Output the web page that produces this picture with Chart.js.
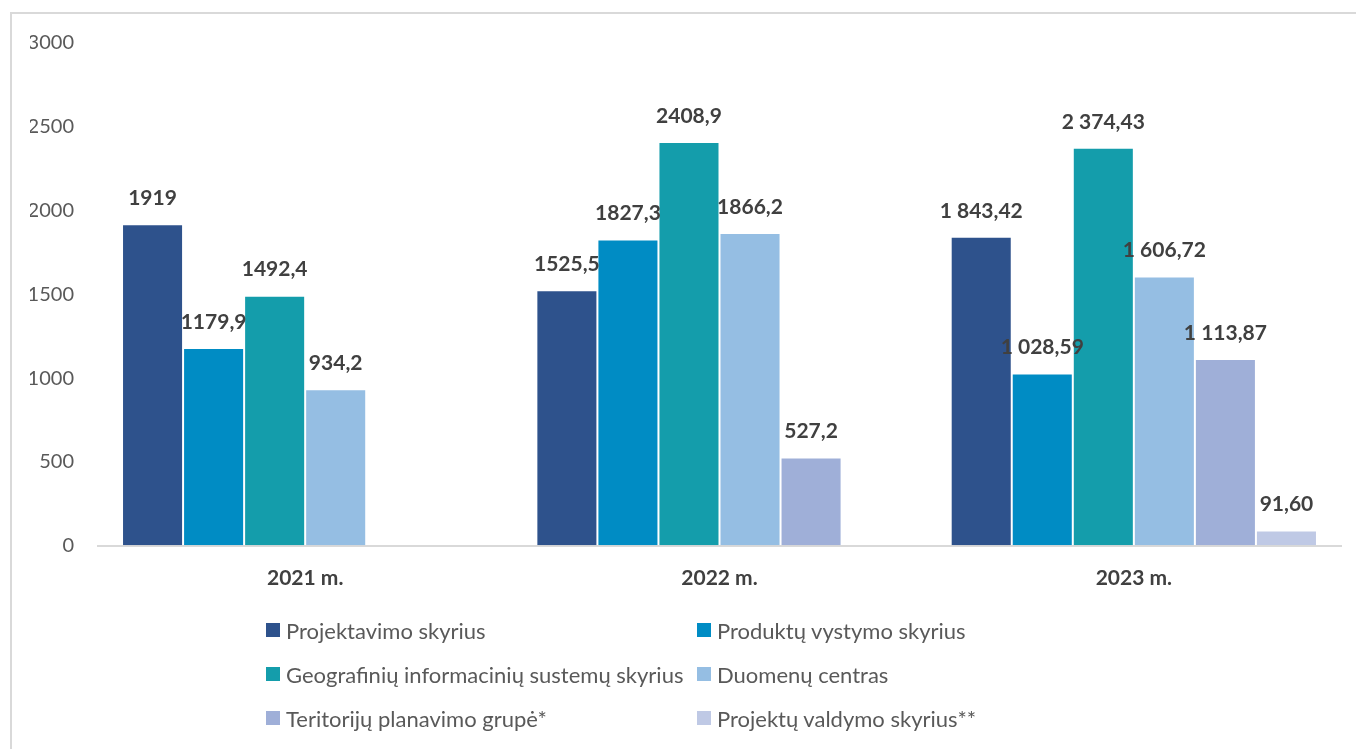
<!DOCTYPE html>
<html lang="lt">
<head>
    <meta charset="UTF-8">
    <title>Skyriai pagal metus</title>
    <script src="https://cdn.jsdelivr.net/npm/chart.js"></script>
    <style>
        body { margin: 0; background: #fff; width: 1356px; height: 749px; overflow: hidden; position: relative; font-family: Lato, "Noto Sans", sans-serif; }
        #frame { position: absolute; left: 10px; top: 12px; width: 1400px; height: 800px; border: 2px solid #d9d9d9; box-sizing: border-box; }
        #wrap { position: absolute; left: 0; top: 0; width: 1356px; height: 621px; }
        #legend { position: absolute; left: 266px; top: 617px; width: 800px; display: grid; grid-template-columns: 431px 369px; row-gap: 18px; }
        .item { display: flex; align-items: center; font-size: 22px; color: #595959; height: 26px; white-space: nowrap; }
        .box { width: 14px; height: 14px; margin-right: 6px; flex: none; }
    </style>
</head>
<body>
    <div id="frame"></div>
    <div id="wrap"><canvas id="chart"></canvas></div>
    <div id="legend"></div>

    <script>
        // metai
        const years = ['2021 m.', '2022 m.', '2023 m.'];

        // skyriai
        const names = [
            'Projektavimo skyrius',
            'Produktų vystymo skyrius',
            'Geografinių informacinių sustemų skyrius',
            'Duomenų centras',
            'Teritorijų planavimo grupė*',
            'Projektų valdymo skyrius**'
        ];
        const colors = ['#2e528c', '#008cc4', '#149dab', '#95bee3', '#9fafd8', '#bfc9e5'];

        // reikšmės
        const projektavimo = [1919, 1525.5, 1843.42];
        const produktu = [1179.9, 1827.3, 1028.59];
        const geografiniu = [1492.4, 2408.9, 2374.43];
        const duomenu = [934.2, 1866.2, 1606.72];
        const teritoriju = [null, 527.2, 1113.87];
        const projektu = [null, null, 91.6];

        // užrašai virš stulpelių
        const projektavimoLbl = ['1919', '1525,5', '1 843,42'];
        const produktuLbl = ['1179,9', '1827,3', '1 028,59'];
        const geografiniuLbl = ['1492,4', '2408,9', '2 374,43'];
        const duomenuLbl = ['934,2', '1866,2', '1 606,72'];
        const teritorijuLbl = ['', '527,2', '1 113,87'];
        const projektuLbl = ['', '', '91,60'];

        const values = [projektavimo, produktu, geografiniu, duomenu, teritoriju, projektu];
        const labels = [projektavimoLbl, produktuLbl, geografiniuLbl, duomenuLbl, teritorijuLbl, projektuLbl];

        const valueLabels = {
            id: 'valueLabels',
            afterDatasetsDraw(chart) {
                const ctx = chart.ctx;
                ctx.save();
                ctx.font = 'bold 21px Lato, "Noto Sans", sans-serif';
                ctx.fillStyle = '#404040';
                ctx.textAlign = 'center';
                ctx.textBaseline = 'middle';
                chart.data.datasets.forEach((ds, i) => {
                    const meta = chart.getDatasetMeta(i);
                    meta.data.forEach((bar, j) => {
                        if (ds.data[j] == null) return;
                        ctx.fillText(labels[i][j], bar.x, bar.y - 26);
                    });
                });
                ctx.restore();
            }
        };

        new Chart(document.getElementById('chart'), {
            type: 'bar',
            data: {
                labels: years,
                datasets: names.map((n, i) => ({
                    label: n,
                    data: values[i],
                    backgroundColor: colors[i],
                    borderColor: 'rgba(255,255,255,0.5)',
                    borderWidth: 1,
                    barPercentage: 1,
                    categoryPercentage: 0.884
                }))
            },
            options: {
                responsive: true,
                maintainAspectRatio: false,
                animation: false,
                layout: { padding: { top: 43, left: 30, right: 15, bottom: 10 } },
                plugins: {
                    legend: { display: false },
                    tooltip: { enabled: false }
                },
                scales: {
                    x: {
                        grid: { display: true, drawOnChartArea: false, drawTicks: false },
                        border: { color: '#d9d9d9', width: 2 },
                        ticks: {
                            color: '#404040',
                            padding: 20,
                            font: { family: 'Lato', size: 21, weight: 'bold' }
                        }
                    },
                    y: {
                        min: 0,
                        max: 3000,
                        afterFit: (scale) => { scale.width = 68; },
                        grid: { display: true, drawOnChartArea: false, drawTicks: false },
                        border: { display: false },
                        ticks: {
                            stepSize: 500,
                            color: '#595959',
                            padding: 24,
                            font: { family: 'Lato', size: 20 },
                            callback: (v) => String(v)
                        }
                    }
                }
            },
            plugins: [valueLabels]
        });

        // legenda dviem stulpeliais
        const legend = document.getElementById('legend');
        names.forEach((n, i) => {
            const item = document.createElement('div');
            item.className = 'item';
            const box = document.createElement('span');
            box.className = 'box';
            box.style.background = colors[i];
            item.appendChild(box);
            item.appendChild(document.createTextNode(n));
            legend.appendChild(item);
        });
    </script>
</body>
</html>
